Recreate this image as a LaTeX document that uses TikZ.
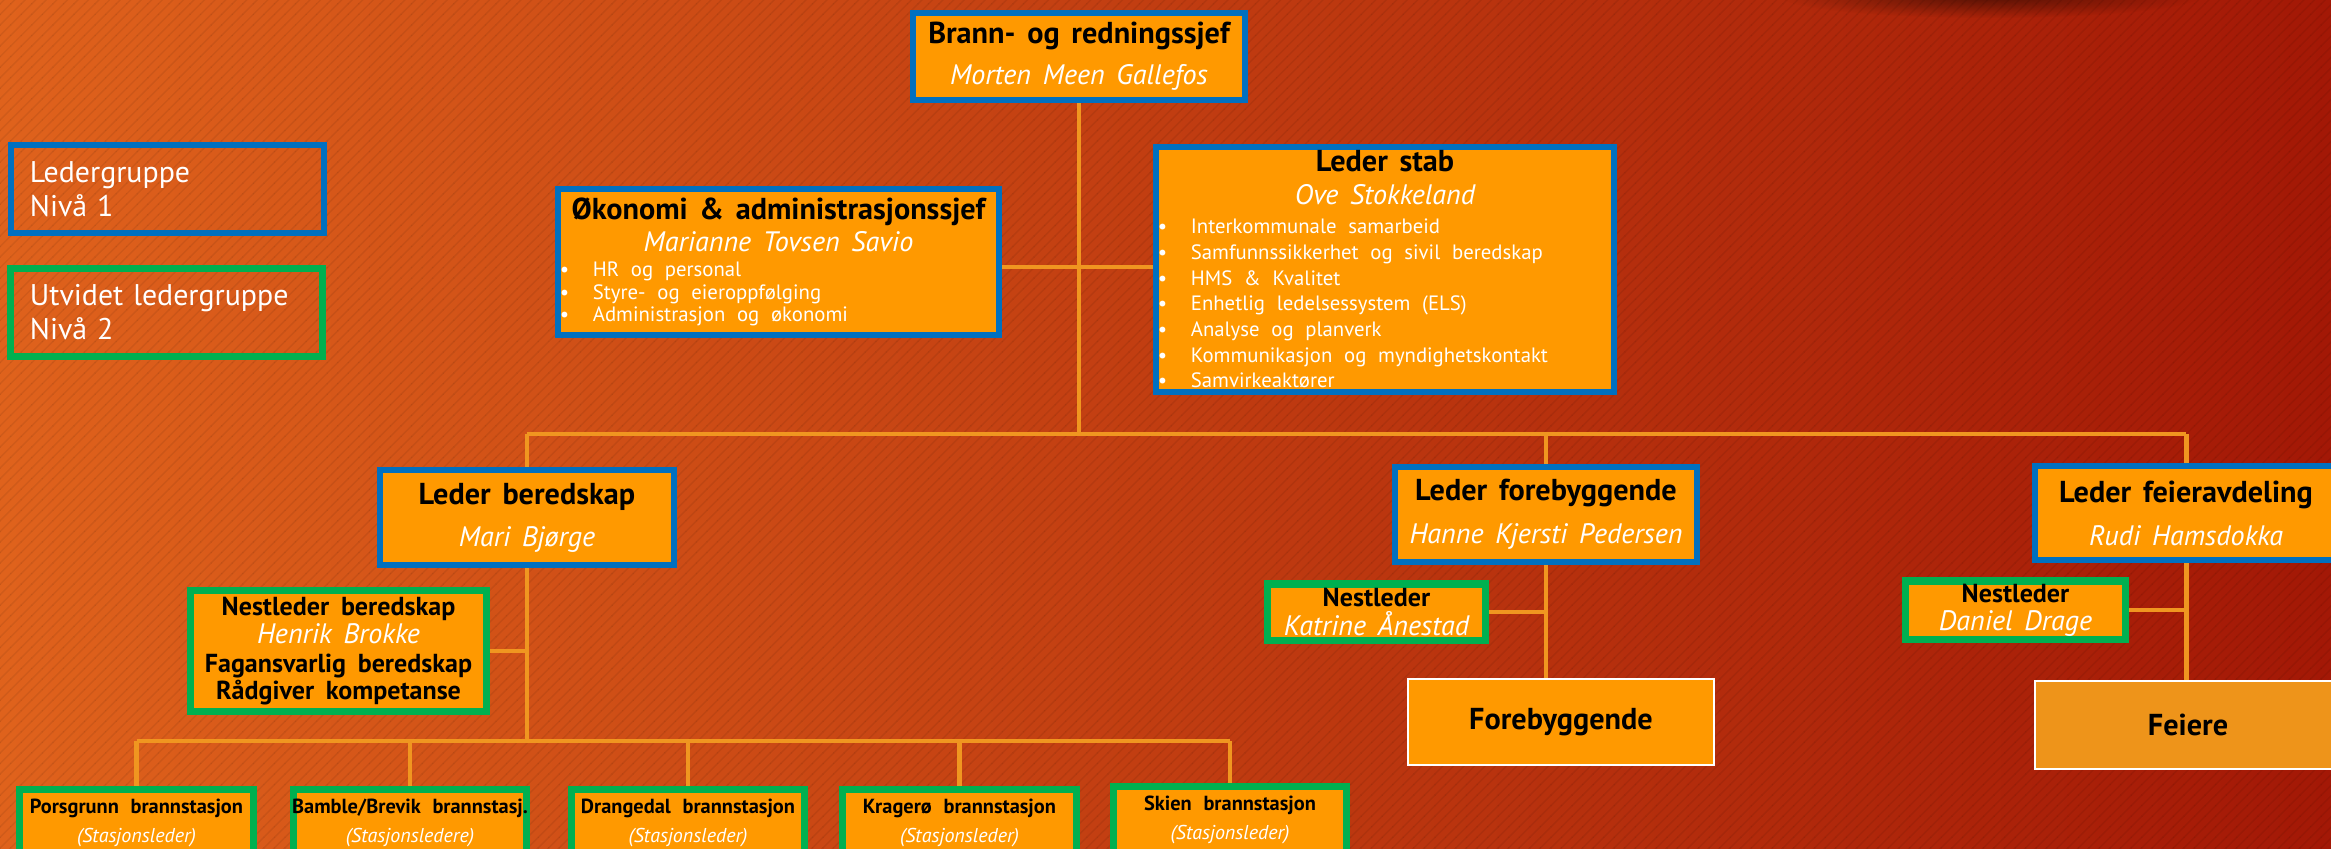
\documentclass[tikz,border=0pt]{standalone}
\usepackage{fontspec}
\setmainfont{PT Sans}
\usepackage{xcolor}
\usepackage{tikz}
\usetikzlibrary{calc}
\usetikzlibrary{patterns}
\usetikzlibrary{fadings}
\usetikzlibrary{backgrounds}
\definecolor{bgleft}{RGB}{223,98,28}
\definecolor{bgmid}{RGB}{204,69,18}
\definecolor{bgright}{RGB}{163,24,6}
\definecolor{boxorange}{RGB}{255,153,0}
\definecolor{sweeporange}{RGB}{238,148,26}
\definecolor{ledblue}{RGB}{0,112,192}
\definecolor{extgreen}{RGB}{0,176,80}
\definecolor{linkorange}{RGB}{240,150,32}
\tikzfading[name=shadowfade, inner color=transparent!0, outer color=transparent!100]
\newcommand{\hd}[2][10]{{\fontsize{8.6}{#1}\selectfont\bfseries\makebox[\linewidth]{#2}\par}}
\newcommand{\sd}[2][9]{{\fontsize{7.4}{#1}\selectfont\bfseries\makebox[\linewidth]{#2}\par}}
\newcommand{\nm}[2][11]{{\fontsize{8}{#1}\selectfont\itshape\leavevmode\color{white}\makebox[\linewidth]{#2}\par}}
\newcommand{\bl}[2][7.3]{{\fontsize{5.9}{#1}\selectfont\leavevmode\color{white}\makebox[\linewidth][l]{\makebox[0.33cm][l]{\textbullet}#2}\par}}
\newcommand{\st}[2]{{\fontsize{5.8}{7}\selectfont\bfseries\makebox[\linewidth]{#1}\par}{\fontsize{5.7}{8.25}\selectfont\itshape\leavevmode\color{white}\makebox[\linewidth]{(#2)}\par}\vspace*{0.35cm}}
\tikzset{lead/.style={draw=ledblue, line width=1.7pt, fill=boxorange, inner sep=0pt},
  ext/.style={draw=extgreen, line width=2pt, fill=boxorange, inner sep=0pt},
  legend/.style={line width=1.7pt, inner sep=0pt, align=left, text=white, minimum height=0.88cm, font=\fontsize{8.5}{9.7}\selectfont},
  unitbox/.style={draw=white, line width=0.6pt, inner sep=0pt, minimum width=3.06cm, font=\fontsize{8.6}{10}\selectfont\bfseries},
  station/.style={ext, anchor=north, minimum width=2.33cm, text width=2.29cm, inner ysep=0.1cm},
  link/.style={draw=linkorange, line width=1.4pt}}

\begin{document}
\begin{tikzpicture}[x=0.01cm, y=-0.01cm]
\useasboundingbox (0,0) rectangle (2331,848);

\node[lead, minimum width=3.32cm, minimum height=0.87cm, text width=3.28cm] (chief) at (1079,56.5)
  {\hd{Brann- og redningssjef}\nm[11.7]{Morten Meen Gallefos}};
\node[legend, draw=ledblue, minimum width=3.13cm, text width=2.75cm] (lg1) at (167.5,189) {Ledergruppe\\Nivå 1};
\node[legend, draw=extgreen, line width=2pt, minimum width=3.11cm, text width=2.73cm] (lg2) at (166.5,312.5) {Utvidet ledergruppe\\Nivå 2};

\node[lead, minimum width=4.41cm, minimum height=1.46cm, text width=4.37cm] (econ) at (778.5,262)
  {\hd{Økonomi \& administrasjonssjef}\nm[9.1]{Marianne Tovsen Savio}
   \bl[7.1]{HR og personal}\bl[6.5]{Styre- og eieroppfølging}\bl[6.5]{Administrasjon og økonomi}};
\node[lead, minimum width=4.58cm, minimum height=2.45cm, text width=4.54cm] (staff) at (1385,269.5)
  {\hd{Leder stab}\nm[9.4]{Ove Stokkeland}
   \bl[8.25]{Interkommunale samarbeid}\bl{Samfunnssikkerhet og sivil beredskap}\bl{HMS \& Kvalitet}
   \bl{Enhetlig ledelsessystem (ELS)}\bl{Analyse og planverk}\bl{Kommunikasjon og myndighetskontakt}\bl{Samvirkeaktører}};

\node[lead, minimum width=2.94cm, minimum height=0.95cm, text width=2.9cm] (prep) at (527,517.5)
  {\hd{Leder beredskap}\nm[12]{Mari Bjørge}};
\node[ext, minimum width=2.95cm, minimum height=1.2cm, text width=2.91cm] (prepdep) at (338.5,651)
  {\sd{Nestleder beredskap}\nm[8.2]{Henrik Brokke}\sd[8.2]{Fagansvarlig beredskap}\sd[7.7]{Rådgiver kompetanse}};

\node[lead, minimum width=3.02cm, minimum height=0.95cm, text width=2.98cm] (prev) at (1546,514.5)
  {\hd{Leder forebyggende}\nm[12.2]{Hanne Kjersti Pedersen}};
\node[ext, minimum width=2.17cm, minimum height=0.56cm, text width=2.13cm] (prevdep) at (1376.5,612)
  {\sd{Nestleder}\nm[8]{Katrine Ånestad}};
\node[unitbox, fill=boxorange, minimum height=0.86cm] (prevunit) at (1561,722) {Forebyggende};

\node[lead, minimum width=3.02cm, minimum height=0.94cm, text width=2.98cm] (sweep) at (2186,513)
  {\hd{Leder feieravdeling}\nm[12.2]{Rudi Hamsdokka}};
\node[ext, minimum width=2.19cm, minimum height=0.58cm, text width=2.15cm] (sweepdep) at (2015.5,610)
  {\sd{Nestleder}\nm[8]{Daniel Drage}};
\node[unitbox, fill=sweeporange, minimum height=0.88cm] (sweepunit) at (2188,725) {Feiere};

\node[station] (s1) at (136.5,785.5) {\st{Porsgrunn brannstasjon}{Stasjonsleder}};
\node[station] (s2) at (410,785.5) {\st{Bamble/Brevik brannstasj.}{Stasjonsledere}};
\node[station] (s3) at (688,785.5) {\st{Drangedal brannstasjon}{Stasjonsleder}};
\node[station] (s4) at (959.5,785.5) {\st{Kragerø brannstasjon}{Stasjonsleder}};
\node[station] (s5) at (1230,782.5) {\st{Skien brannstasjon}{Stasjonsleder}};

\coordinate (stafflink) at (1079,267);
\coordinate (mbus) at (1079,434);
\coordinate (sbus) at (527,741);

\begin{scope}[on background layer]
\shade[left color=bgleft, middle color=bgmid, right color=bgright] (0,0) rectangle (2331,848);
\fill[pattern=north east lines, pattern color=black, opacity=0.07] (0,0) rectangle (2331,848);
\fill[black, opacity=0.5, path fading=shadowfade] (1990,-4) ellipse (210 and 22);
\draw[link] (chief.south) -- (mbus);
\draw[link] (econ.east |- stafflink) -- (staff.west |- stafflink);
\draw[link] (prep.north |- mbus) -- (sweep.north |- mbus);
\foreach \n in {prep,prev,sweep}
  \draw[link] (\n.north |- mbus) -- (\n.north);
\draw[link] (prep.south) -- (sbus);
\draw[link] (prepdep.east) -- (prepdep.east -| sbus);
\draw[link] (s1.north |- sbus) -- (s5.north |- sbus);
\foreach \i in {1,...,5}
  \draw[link] (s\i.north |- sbus) -- (s\i.north);
\draw[link] (prev.south) -- (prev.south |- prevunit.north);
\draw[link] (prevdep.east) -- (prevdep.east -| prev.south);
\draw[link] (sweep.south) -- (sweep.south |- sweepunit.north);
\draw[link] (sweepdep.east) -- (sweepdep.east -| sweep.south);
\end{scope}
\end{tikzpicture}
\end{document}
